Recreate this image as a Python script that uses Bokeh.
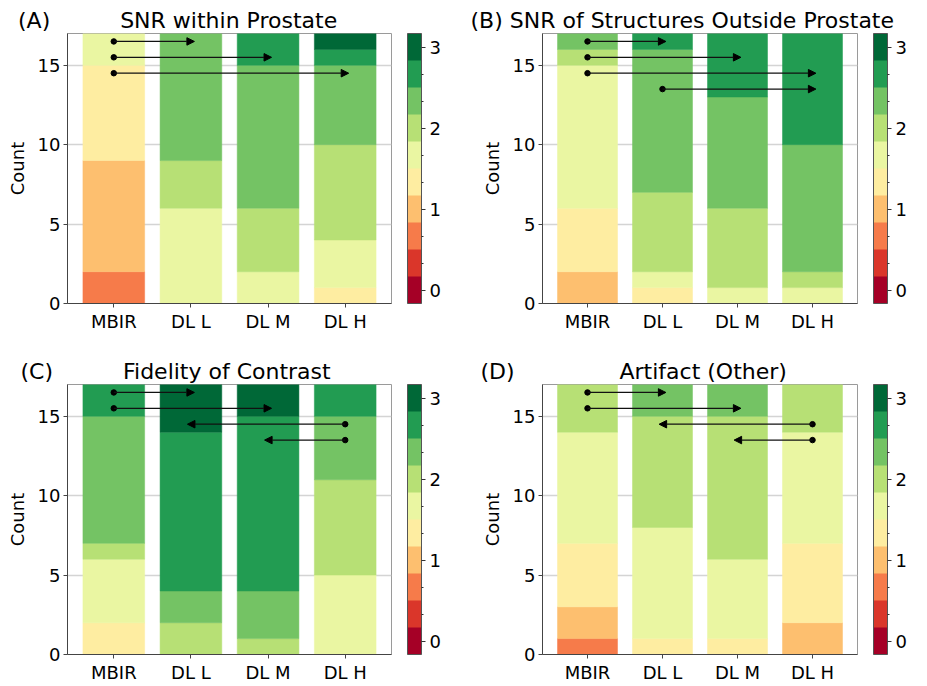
from bokeh.plotting import figure
from bokeh.models import (Range1d, FixedTicker, ColorBar, LinearColorMapper, Title,
                          Arrow, NormalHead)
from bokeh.layouts import column, row
from bokeh.embed import file_html
from bokeh.resources import INLINE

# ---------------- data ----------------
methods = ["MBIR", "DL L", "DL M", "DL H"]
# score levels 0, 1/3, 2/3, ..., 3 (10 levels); counts per level for each method
score_ticks = [0, 1, 2, 3]
score_minor = [1/3, 2/3, 4/3, 5/3, 7/3, 8/3]
palette = ["#a50026", "#da362a", "#f67b4a", "#fdbf6f", "#feeda1",
           "#eaf6a2", "#b7e075", "#74c364", "#229c52", "#006837"]

titles = ["SNR within Prostate", "SNR of Structures Outside Prostate",
          "Fidelity of Contrast", "Artifact (Other)"]
letters = ["(A)", "(B)", "(C)", "(D)"]

snr_prostate = [
    [0, 0, 2, 7, 6, 2, 0, 0, 0, 0],
    [0, 0, 0, 0, 0, 6, 3, 8, 0, 0],
    [0, 0, 0, 0, 0, 2, 4, 9, 2, 0],
    [0, 0, 0, 0, 1, 3, 6, 5, 1, 1],
]
snr_outside = [
    [0, 0, 0, 2, 4, 9, 1, 1, 0, 0],
    [0, 0, 0, 0, 1, 1, 5, 9, 1, 0],
    [0, 0, 0, 0, 0, 1, 5, 7, 4, 0],
    [0, 0, 0, 0, 0, 1, 1, 8, 7, 0],
]
contrast = [
    [0, 0, 0, 0, 2, 4, 1, 8, 2, 0],
    [0, 0, 0, 0, 0, 0, 2, 2, 10, 3],
    [0, 0, 0, 0, 0, 0, 1, 3, 11, 2],
    [0, 0, 0, 0, 0, 5, 6, 4, 2, 0],
]
artifact = [
    [0, 0, 1, 2, 4, 7, 3, 0, 0, 0],
    [0, 0, 0, 0, 1, 7, 7, 2, 0, 0],
    [0, 0, 0, 0, 1, 5, 9, 2, 0, 0],
    [0, 0, 0, 2, 5, 7, 3, 0, 0, 0],
]
# significance arrows: (from method index, to method index, y level)
snr_prostate_arrows = [(0, 1, 16.5), (0, 2, 15.5), (0, 3, 14.5)]
snr_outside_arrows = [(0, 1, 16.5), (0, 2, 15.5), (0, 3, 14.5), (1, 3, 13.5)]
contrast_arrows = [(0, 1, 16.5), (0, 2, 15.5), (3, 1, 14.5), (3, 2, 13.5)]
artifact_arrows = [(0, 1, 16.5), (0, 2, 15.5), (3, 1, 14.5), (3, 2, 13.5)]

FONT = "DejaVu Sans"
NBSP = "\u00a0"


def make_panel(title, letter, counts, arrows, width, height, bl, br, bt, bb,
               title_offset, gap):
    p = figure(width=width, height=height, x_range=Range1d(-0.6, 3.6),
               y_range=Range1d(0, 17), output_backend="svg", toolbar_location=None,
               min_border_left=bl, min_border_right=br, min_border_top=bt,
               min_border_bottom=bb)
    p.outline_line_color = "#9a9a9a"
    p.outline_line_width = 1
    p.xgrid.grid_line_color = None
    p.ygrid.ticker = FixedTicker(ticks=[5, 10, 15])
    p.ygrid.grid_line_color = "#d4d4d4"
    p.ygrid.grid_line_width = 1.5

    for ax in (p.xaxis[0], p.yaxis[0]):
        ax.axis_line_color = "#444444"
        ax.major_tick_line_color = "#444444"
        ax.major_tick_out = 4
        ax.major_tick_in = 0
        ax.minor_tick_line_color = None
        ax.major_label_standoff = 3
        ax.major_label_text_font = FONT
        ax.major_label_text_font_size = "18px"
        ax.major_label_text_color = "black"
    p.xaxis.ticker = FixedTicker(ticks=list(range(len(methods))))
    p.xaxis.major_label_overrides = {i: m for i, m in enumerate(methods)}
    p.yaxis.ticker = FixedTicker(ticks=[0, 5, 10, 15])
    p.yaxis.axis_label = "Count"
    p.yaxis.axis_label_text_font = FONT
    p.yaxis.axis_label_text_font_size = "18px"
    p.yaxis.axis_label_text_font_style = "normal"
    p.yaxis.axis_label_text_color = "black"
    p.yaxis.axis_label_standoff = 7

    # stacked bars
    xs, bottoms, tops, colors = [], [], [], []
    for i, lvl_counts in enumerate(counts):
        cum = 0
        for k, c in enumerate(lvl_counts):
            if c > 0:
                xs.append(i)
                bottoms.append(cum)
                tops.append(cum + c)
                colors.append(palette[k])
                cum += c
    p.vbar(x=xs, bottom=bottoms, top=tops, width=0.8, fill_color=colors,
           line_color=colors, line_width=0.5)

    # arrows
    for a, b, y in arrows:
        sgn = 1 if b > a else -1
        p.add_layout(Arrow(end=NormalHead(size=7.5, fill_color="black", line_color="black",
                                          line_width=1),
                           x_start=a, y_start=y, x_end=b + 0.045 * sgn, y_end=y,
                           line_color="#111111", line_width=1.2))
    p.scatter(x=[a for a, b, y in arrows], y=[y for a, b, y in arrows], size=5.5,
              color="black")

    p.title = Title(text=letter + NBSP * gap + title, align="left", offset=title_offset,
                    standoff=2, text_font=FONT, text_font_size="22px",
                    text_font_style="normal", text_color="black")

    mapper = LinearColorMapper(palette=palette, low=-1/6, high=3 + 1/6)
    cb = ColorBar(color_mapper=mapper, location="center",
                  ticker=FixedTicker(ticks=score_ticks, minor_ticks=score_minor),
                  width=14, height=height - bt - bb, padding=16, margin=0,
                  label_standoff=4, major_label_text_font=FONT,
                  major_label_text_font_size="18px", major_label_text_color="black",
                  major_tick_out=4, major_tick_in=0, major_tick_line_color="#333333",
                  minor_tick_out=2, minor_tick_in=0, minor_tick_line_color="#333333",
                  bar_line_color="#555555", bar_line_width=1,
                  background_fill_alpha=0, border_line_color=None)
    p.add_layout(cb, "right")
    return p


TOP_H, BOT_H = 335, 351
LEFT_W, RIGHT_W = 467, 458

pA = make_panel(titles[0], letters[0], snr_prostate, snr_prostate_arrows,
                LEFT_W, TOP_H, 67, 76, 33, 32, -49.5, 10)
pB = make_panel(titles[1], letters[1], snr_outside, snr_outside_arrows,
                RIGHT_W, TOP_H, 75, 58, 33, 32, -72, 1)
pC = make_panel(titles[2], letters[2], contrast, contrast_arrows,
                LEFT_W, BOT_H, 67, 76, 49, 32, -47, 10)
pD = make_panel(titles[3], letters[3], artifact, artifact_arrows,
                RIGHT_W, BOT_H, 75, 58, 49, 32, -62, 15)

layout = column(row(pA, pB), row(pC, pD))
open("out.html", "w").write(file_html(layout, INLINE))
